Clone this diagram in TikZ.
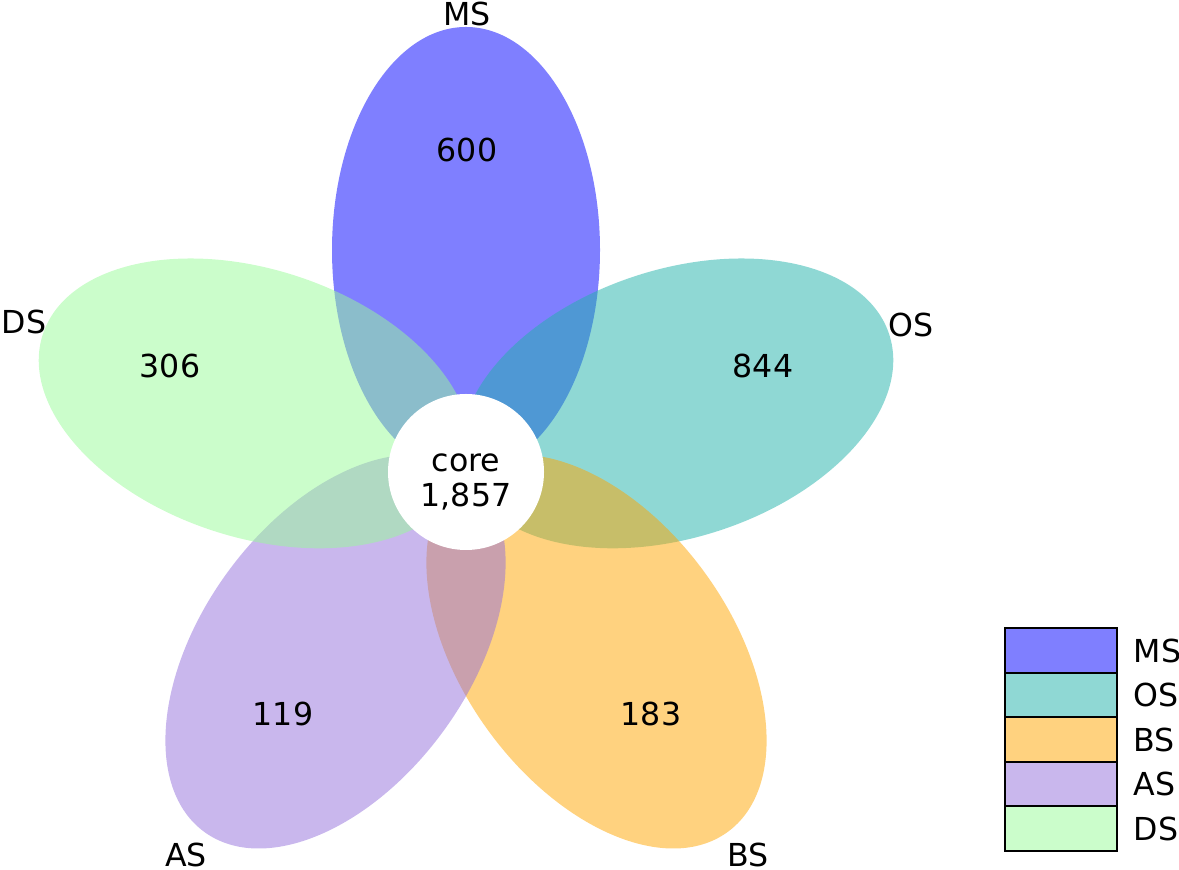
\documentclass[tikz,border=0pt]{standalone}
\usepackage{fontspec}
\setmainfont{DejaVu Sans}
\usetikzlibrary{positioning}
\definecolor{msc}{RGB}{0,0,255}
\definecolor{osc}{RGB}{32,178,170}
\definecolor{bsc}{RGB}{255,165,0}
\definecolor{asc}{RGB}{147,112,219}
\definecolor{dsc}{RGB}{152,251,152}

\begin{document}
\begin{tikzpicture}[node distance=0pt,every node/.style={font=\fontsize{9}{11}\selectfont},
  petal/.style={fill=#1,fill opacity=0.5},
  keybox/.style={draw,line width=0.6pt,fill=#1,fill opacity=0.5,outer sep=0pt,minimum width=11.2mm,minimum height=4.45mm}]
\useasboundingbox (-4.66,-3.98) rectangle (7.13,4.72);
\foreach \ang/\col/\name/\num/\np/\lp in {90/msc/MS/600/{(0.01,3.22)}/{(0.01,4.58)},
    18/osc/OS/844/{(2.97,1.06)}/{(4.45,1.47)}, -54/bsc/BS/183/{(1.85,-2.42)}/{(2.82,-3.83)},
    -126/asc/AS/119/{(-1.83,-2.42)}/{(-2.80,-3.83)}, 162/dsc/DS/306/{(-2.96,1.06)}/{(-4.42,1.50)}} {
  \fill[petal=\col,rotate=\ang] (2.22,0) ellipse [x radius=2.23,y radius=1.34];
  \node (n\name) at \np {\num}; \node (l\name) at \lp {\name};
}
\node[circle,fill=white,minimum size=15.6mm,inner sep=0pt] (core) at (0,0) {};
\node[align=center] (coretext) at (0,-0.1) {core\\[-1pt]1,857};
% legend
\node[keybox=msc] (kMS) at (5.95,-1.785) {};
\node[keybox=osc,below=of kMS] (kOS) {};
\node[keybox=bsc,below=of kOS] (kBS) {};
\node[keybox=asc,below=of kBS] (kAS) {};
\node[keybox=dsc,below=of kAS] (kDS) {};
\foreach \k in {MS,OS,BS,AS,DS} \node[right=1.6mm of k\k,inner xsep=0pt] (t\k) {\k};
\end{tikzpicture}
\end{document}
